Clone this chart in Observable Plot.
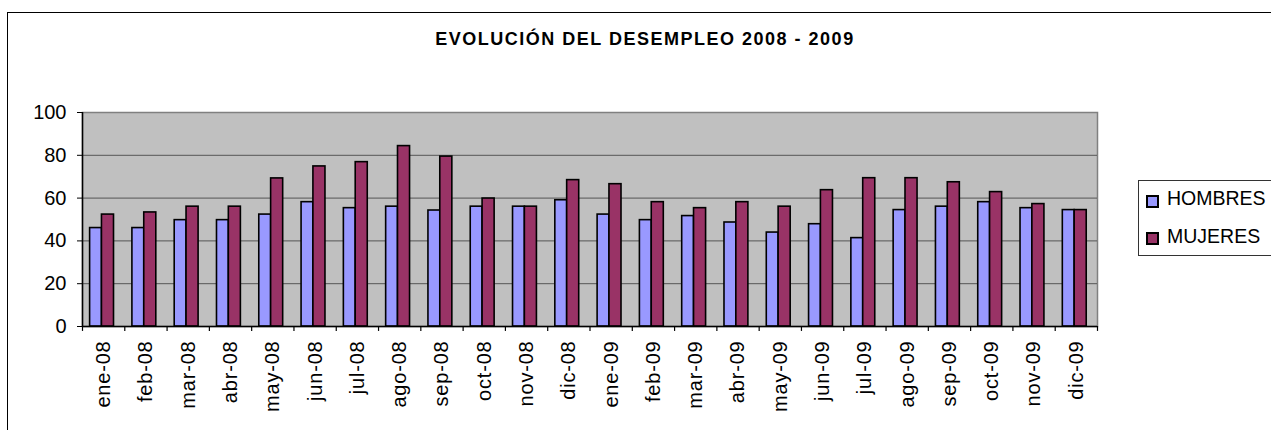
<!DOCTYPE html>
<html>
<head>
<meta charset="utf-8">
<script src="https://cdn.jsdelivr.net/npm/d3@7"></script>
<script src="https://cdn.jsdelivr.net/npm/@observablehq/plot@0.6"></script>
<style>
  html, body { margin: 0; padding: 0; background: white; }
  #wrap { position: relative; width: 1271px; height: 430px; overflow: hidden; font-family: "Liberation Sans", Arial, sans-serif; }
  #border { position: absolute; left: 7px; top: 12px; width: 1400px; height: 600px; border: 1px solid black; box-sizing: border-box; pointer-events: none; }
  #title { position: absolute; left: 645px; top: 30px; transform: translateX(-50%); white-space: nowrap; font-weight: bold; font-size: 18px; line-height: 18px; letter-spacing: 1.5px; color: black; }
  #legend { position: absolute; left: 1138px; top: 180px; width: 200px; height: 76px; border: 1px solid #333; box-sizing: border-box; background: white; }
  .sw { position: absolute; width: 13px; height: 13px; border: 2px solid black; box-sizing: border-box; }
  .lt { position: absolute; font-size: 19.5px; line-height: 19.5px; color: black; white-space: nowrap; }
  #chart { position: absolute; left: 0; top: 0; }
  svg g[aria-label="x-axis tick label"] text { letter-spacing: 0.8px; }
</style>
</head>
<body>
<div id="wrap">
  <div id="chart"></div>
  <div id="border"></div>
  <div id="title"></div>
  <div id="legend"></div>
</div>
<script>
const titleText = "EVOLUCIÓN DEL DESEMPLEO 2008 - 2009";
const months = ["ene-08","feb-08","mar-08","abr-08","may-08","jun-08","jul-08","ago-08","sep-08","oct-08","nov-08","dic-08",
                "ene-09","feb-09","mar-09","abr-09","may-09","jun-09","jul-09","ago-09","sep-09","oct-09","nov-09","dic-09"];
const series = ["HOMBRES", "MUJERES"];
const hombres = [46, 46, 49.7, 49.7, 52.3, 58.1, 55.3, 56, 54.2, 56, 56, 59, 52.3, 49.7, 51.6, 48.6, 43.9, 47.8, 41.3, 54.4, 56, 58.1, 55.3, 54.4];
const mujeres = [52.3, 53.3, 56, 56, 69.2, 74.8, 76.8, 84.3, 79.4, 59.8, 56, 68.4, 66.5, 58.1, 55.3, 58.1, 56, 63.7, 69.3, 69.3, 67.4, 62.8, 57.2, 54.4];
const yTicks = [0, 20, 40, 60, 80, 100];
const colors = ["#9999FF", "#993366"];

const W = 1271, H = 430, mL = 82, mR = 174, mT = 112, mB = 104;
const bw = (W - mL - mR) / months.length;

const dataH = months.map((m, i) => ({month: m, value: hombres[i]}));
const dataM = months.map((m, i) => ({month: m, value: mujeres[i]}));

const chart = Plot.plot({
  width: W, height: H,
  marginLeft: mL, marginRight: mR, marginTop: mT, marginBottom: mB,
  style: {fontFamily: '"Liberation Sans", Arial, sans-serif', fontSize: "20px", background: "transparent", color: "black"},
  x: {domain: months, padding: 0, round: false, label: null, axis: null},
  y: {domain: [0, 100], label: null, axis: null},
  marks: [
    Plot.frame({fill: "#C0C0C0", stroke: "#808080", strokeWidth: 1.5}),
    Plot.ruleY(yTicks.filter(t => t > 0 && t < 100), {stroke: "#555", strokeWidth: 1}),
    Plot.barY(dataH, {x: "month", y: "value", fill: colors[0], stroke: "black", strokeWidth: 1.6,
      insetLeft: bw * 0.18, insetRight: bw - bw * 0.46}),
    Plot.barY(dataM, {x: "month", y: "value", fill: colors[1], stroke: "black", strokeWidth: 1.6,
      insetLeft: bw * 0.46, insetRight: bw * 0.255}),
    Plot.ruleY([0], {stroke: "black", strokeWidth: 1.5}),
    Plot.ruleX([months[0]], {y1: 0, y2: 100, dx: -bw / 2, stroke: "black", strokeWidth: 1.5}),
    Plot.ruleX(months, {y1: 0, y2: -2.3, dx: -bw / 2, stroke: "black", strokeWidth: 1.2}),
    Plot.ruleX([months[months.length - 1]], {y1: 0, y2: -2.3, dx: bw / 2, stroke: "black", strokeWidth: 1.2}),
    Plot.axisY(yTicks, {tickSize: 5, tickPadding: 11, fontSize: 20, label: null, stroke: "black"}),
    Plot.axisX({tickSize: 0, tickRotate: -90, tickPadding: 14, fontSize: 20, label: null})
  ]
});
document.getElementById("chart").appendChild(chart);

document.getElementById("title").textContent = titleText;

const legend = document.getElementById("legend");
const swTops = [14, 51];
const txtTops = [8, 46];
series.forEach((s, i) => {
  const sw = document.createElement("div");
  sw.className = "sw";
  sw.style.left = "7px";
  sw.style.top = swTops[i] + "px";
  sw.style.background = colors[i];
  legend.appendChild(sw);
  const t = document.createElement("div");
  t.className = "lt";
  t.style.left = "28px";
  t.style.top = txtTops[i] + "px";
  t.textContent = s;
  legend.appendChild(t);
});
</script>
</body>
</html>
